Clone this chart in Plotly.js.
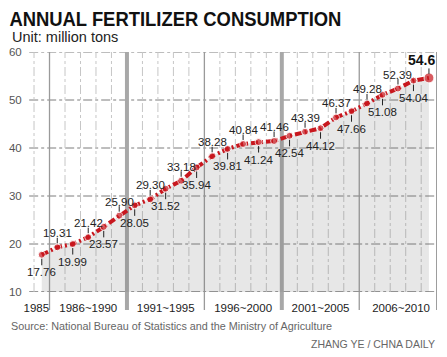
<!DOCTYPE html>
<html><head><meta charset="utf-8">
<script src="https://cdn.plot.ly/plotly-3.0.1.min.js"></script>
<style>html,body{margin:0;padding:0;background:#fff}#chart{width:447px;height:357px}</style>
</head><body><div id="chart"></div>
<script>
const years = [1985,1986,1987,1988,1989,1990,1991,1992,1993,1994,1995,1996,1997,1998,1999,2000,2001,2002,2003,2004,2005,2006,2007,2008,2009,2010];
const values = [17.76,19.31,19.99,21.42,23.57,25.90,28.05,29.30,31.52,33.18,35.94,38.28,39.81,40.84,41.24,41.46,42.54,43.39,44.12,46.37,47.66,49.28,51.08,52.39,54.04,54.6];
const valueLabels = ['17.76','19.31','19.99','21.42','23.57','25.90','28.05','29.30','31.52','33.18','35.94','38.28','39.81','40.84','41.24','41.46','42.54','43.39','44.12','46.37','47.66','49.28','51.08','52.39','54.04','54.6'];
const periodLabels = ['1985','1986~1990','1991~1995','1996~2000','2001~2005','2006~2010'];
const periodTickPos = [1984.65,1988,1993,1998,2003,2008.2];
const periodEnds = [1985,1990,1995,2000,2005,2010];
const thickEnds = [1990,2000];
const yTicks = [10,20,30,40,50,60];

const RED = '#c8171e';
const LABEL_FONT = 'Liberation Sans, Arial, sans-serif';

const shapes = [];
years.forEach(y => {
  const xv = y - 0.5;
  if (periodEnds.indexOf(y - 1) >= 0) return;
  shapes.push({type:'line', xref:'x', yref:'y', x0:xv, x1:xv, y0:yTicks[0], y1:yTicks[yTicks.length-1],
    line:{color:'#c6c6c6', width:1, dash:'dashdot'}, layer:'below'});
});
yTicks.forEach((v,i) => {
  shapes.push({type:'line', xref:'paper', yref:'y', x0:-0.002, x1:1, y0:v, y1:v,
    line:{color: i===0 ? '#333333' : '#7d7d7d', width:1, dash:'dashdot'}, layer:'below'});
});
periodEnds.forEach(e => {
  const thick = thickEnds.indexOf(e) >= 0;
  shapes.push({type:'line', xref:'x', yref:'paper', x0:e+0.5, x1:e+0.5, y0:-0.075, y1:1,
    line:{color: thick ? '#a8a8a8' : '#9a9a9a', width: thick ? 4 : 1.3}, layer:'below'});
});

const annotations = [];
annotations.push({xref:'paper', yref:'paper', x:0.3587, y:1.14, xanchor:'center', yanchor:'middle', showarrow:false,
  text:'<b>ANNUAL FERTILIZER CONSUMPTION</b>', font:{family:'Liberation Sans, Arial, sans-serif', size:21, color:'#111'}});
annotations.push({xref:'paper', yref:'paper', x:-0.049, y:1.064, xanchor:'left', yanchor:'middle', showarrow:false,
  text:'Unit: million tons', font:{family:LABEL_FONT, size:14.5, color:'#222'}});
annotations.push({xref:'paper', yref:'paper', x:-0.052, y:-0.142, xanchor:'left', yanchor:'middle', showarrow:false,
  text:'Source: National Bureau of Statistics and the Ministry of Agriculture', font:{family:LABEL_FONT, size:10.8, color:'#666'}});
annotations.push({xref:'paper', yref:'paper', x:1.0, y:-0.215, xanchor:'right', yanchor:'middle', showarrow:false,
  text:'ZHANG YE / CHNA DAILY', font:{family:LABEL_FONT, size:10.5, color:'#666'}});

values.forEach((v,i) => {
  const above = (i % 2 === 1);
  const last = (i === values.length - 1);
  annotations.push({x:years[i], y:v, xref:'x', yref:'y', text:'', showarrow:true, arrowhead:0, arrowwidth:1,
    arrowcolor:'#222', ax:0, ay: above ? -11 : 12, standoff:4});
  annotations.push({x:years[i], y:v, xref:'x', yref:'y', text: last ? '<b>'+valueLabels[i]+'</b>' : valueLabels[i],
    showarrow:false, xanchor:'center', yanchor:'middle', xshift: last ? -7 : 0,
    yshift: above ? (last ? 17.5 : 14) : -17.5,
    font:{family:LABEL_FONT, size: last ? 14 : 11.5, color: last ? '#111' : '#222'}});
});

const traces = [
  {x:years, y:values, type:'scatter', mode:'lines', fill:'tozeroy', fillcolor:'rgba(110,110,110,0.17)',
   line:{width:0, color:'rgba(0,0,0,0)'}, hoverinfo:'skip', showlegend:false},
  {x:years, y:values, type:'scatter', mode:'lines+markers',
   line:{color:RED, width:4, dash:'7px,3px,2px,3px'},
   marker:{color:RED, size: values.map((v,i)=> i===values.length-1 ? 10 : 7)},
   showlegend:false, hoverinfo:'skip'}
];

const layout = {
  width:447, height:357,
  margin:{l:30, r:10, t:52, b:65, pad:0},
  paper_bgcolor:'#ffffff', plot_bgcolor:'rgba(0,0,0,0)',
  showlegend:false,
  xaxis:{range:[1984.24, 2010.52], showgrid:false, zeroline:false, showline:false,
    tickmode:'array', tickvals:periodTickPos, ticktext:periodLabels,
    ticks:'outside', ticklen:5, tickcolor:'rgba(0,0,0,0)',
    tickfont:{family:LABEL_FONT, size:11.5, color:'#222'}},
  yaxis:{range:[10,60], showgrid:false, zeroline:false, showline:false,
    tickmode:'array', tickvals:yTicks, ticks:'outside', ticklen:5, tickcolor:'rgba(0,0,0,0)',
    tickfont:{family:LABEL_FONT, size:11.5, color:'#555'}},
  shapes:shapes, annotations:annotations
};

Plotly.newPlot('chart', traces, layout, {displayModeBar:false, staticPlot:true}).then(gd => {
  gd.querySelectorAll('text.annotation-text').forEach(t => {
    if (t.textContent.indexOf('ANNUAL') === 0) {
      t.setAttribute('textLength', '332');
      t.setAttribute('lengthAdjust', 'spacingAndGlyphs');
    }
  });
});
</script></body></html>
